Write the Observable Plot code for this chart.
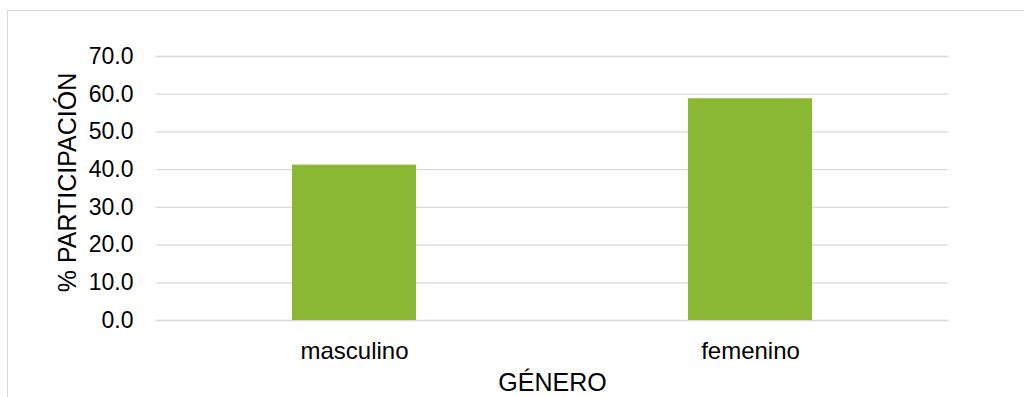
<!DOCTYPE html>
<html>
<head>
<meta charset="utf-8">
<script src="https://cdn.jsdelivr.net/npm/d3@7"></script>
<script src="https://cdn.jsdelivr.net/npm/@observablehq/plot@0.6"></script>
<style>
  html, body { margin: 0; padding: 0; background: #fff; overflow: hidden; }
  #wrap { position: relative; width: 1024px; height: 397px; overflow: hidden; }
  #frame { position: absolute; left: 7px; top: 10px; width: 1200px; height: 600px; border: 1px solid #d9d9d9; box-sizing: border-box; }
  #chart { position: absolute; left: 0; top: 0; }
  g[aria-label="x-axis tick label"] { font-size: 24px; }
</style>
</head>
<body>
<div id="wrap"><div id="frame"></div><div id="chart"></div></div>
<script>
const categories = ["masculino", "femenino"];
const values = [41.2, 58.8];
const yTicks = [0, 10, 20, 30, 40, 50, 60, 70];
const xTitle = "GÉNERO";
const yTitle = "% PARTICIPACIÓN";

const data = categories.map((c, i) => ({ genero: c, pct: values[i] }));

const chart = Plot.plot({
  width: 1024,
  height: 397,
  marginLeft: 156,
  marginRight: 76,
  marginTop: 56,
  marginBottom: 77,
  style: { fontFamily: "'Liberation Sans', Arial, sans-serif", fontSize: "23px", color: "#000", background: "transparent" },
  x: { domain: categories, paddingInner: 0.687, paddingOuter: 0.3435, tickSize: 0, tickPadding: 21, label: null },
  y: { domain: [0, 70], ticks: yTicks, tickFormat: d => d.toFixed(1), tickSize: 0, tickPadding: 23, label: null },
  marks: [
    Plot.ruleY(yTicks, { stroke: "#d9d9d9", strokeWidth: 1.3 }),
    Plot.barY(data, { x: "genero", y: "pct", fill: "#8ab833" }),
    Plot.text([xTitle], { frameAnchor: "bottom", lineAnchor: "middle", textAnchor: "middle", dy: 62, fontSize: 25, fill: "#000" }),
    Plot.text([yTitle], { frameAnchor: "left", rotate: -90, lineAnchor: "middle", textAnchor: "middle", dx: -89, dy: -6, fontSize: 25, fill: "#000" })
  ]
});
document.getElementById("chart").appendChild(chart);
</script>
</body>
</html>
